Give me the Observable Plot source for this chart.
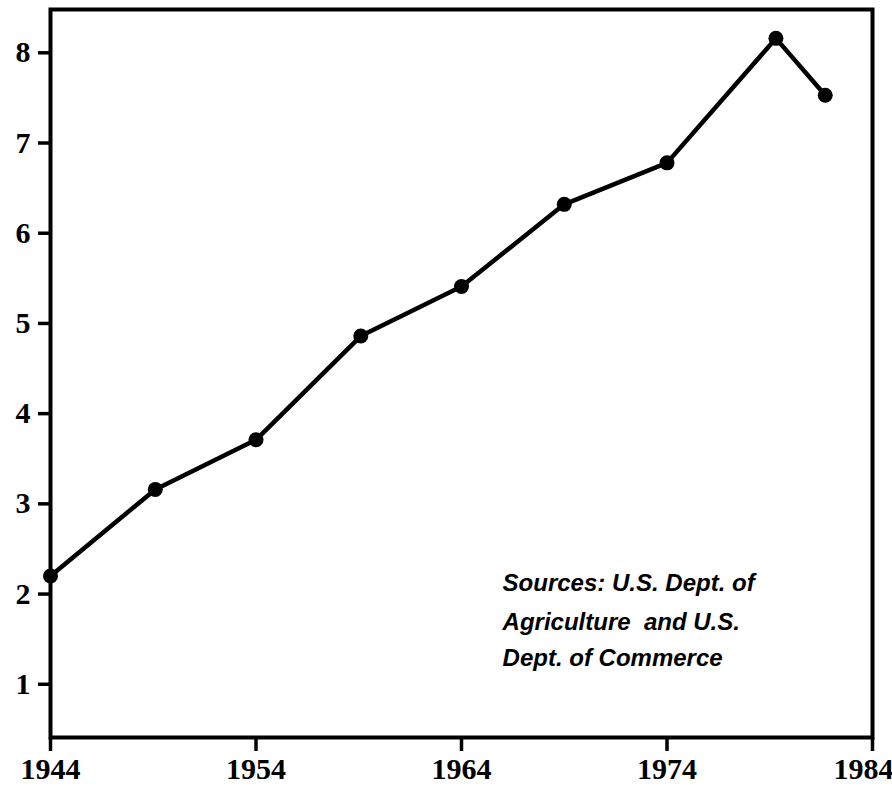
<!DOCTYPE html>
<html>
<head>
<meta charset="utf-8">
<script src="https://cdn.jsdelivr.net/npm/d3@7"></script>
<script src="https://cdn.jsdelivr.net/npm/@observablehq/plot@0.6"></script>
<style>
  html, body { margin: 0; padding: 0; background: #fff; }
</style>
</head>
<body>
<div id="chart"></div>
<script>
const years = [1944, 1949.1, 1954, 1959.1, 1964, 1969, 1974, 1979.3, 1981.7];
const values = [2.2, 3.16, 3.71, 4.86, 5.41, 6.32, 6.78, 8.16, 7.53];
const xTicks = [1944, 1954, 1964, 1974];
const xLastTick = [1984];
const yTicks = [1, 2, 3, 4, 5, 6, 7, 8];
const sourceLines = ["Sources: U.S. Dept. of", "Agriculture  and U.S.", "Dept. of Commerce"];
const sourceY = [2.12, 1.69, 1.29];

const data = years.map((y, i) => ({year: y, value: values[i]}));
const notes = sourceLines.map((t, i) => ({text: t, year: 1966.0, value: sourceY[i]}));

const axisStyle = {strokeWidth: 3.5, fontSize: 30, fontWeight: "bold", label: null};

const chart = Plot.plot({
  width: 892,
  height: 789,
  marginLeft: 50,
  marginRight: 20,
  marginTop: 9,
  marginBottom: 52,
  style: {fontFamily: "'Liberation Serif', serif", background: "#fff", color: "#000"},
  x: {domain: [1944, 1984]},
  y: {domain: [0.41, 8.48]},
  marks: [
    Plot.axisX({ticks: xTicks, tickSize: 14, tickPadding: 6, tickFormat: d => String(d), ...axisStyle}),
    Plot.axisX({ticks: xLastTick, tickSize: 14, tickPadding: 6, tickFormat: () => "", ...axisStyle}),
    Plot.axisX({ticks: xLastTick, tickSize: 0, tickPadding: 20, tickFormat: d => String(d), ...axisStyle, dx: -9}),
    Plot.axisY({ticks: yTicks, tickSize: 12, tickPadding: 8, tickFormat: d => String(d), ...axisStyle}),
    Plot.line(data, {x: "year", y: "value", stroke: "#000", strokeWidth: 4.5}),
    Plot.dot(data, {x: "year", y: "value", r: 7.5, fill: "#000"}),
    Plot.text(notes, {x: "year", y: "value", text: "text", textAnchor: "start", fontSize: 24,
      fontStyle: "italic", fontWeight: "bold", fontFamily: "'Liberation Sans', sans-serif", fill: "#000"}),
    Plot.frame({stroke: "#000", strokeWidth: 4})
  ]
});
document.getElementById("chart").appendChild(chart);
</script>
</body>
</html>
